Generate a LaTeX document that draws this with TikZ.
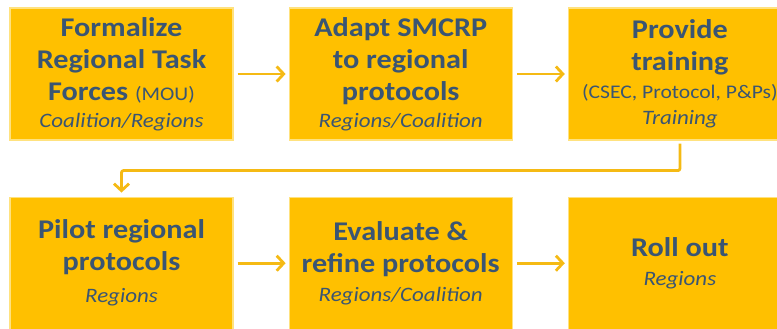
\documentclass[tikz,border=0pt]{standalone}
\usepackage{fontspec}
\setmainfont{Carlito}[FakeStretch=1.12]
\usetikzlibrary{arrows.meta,positioning}

\definecolor{gold}{HTML}{FFC000}
\definecolor{goldedge}{HTML}{FFE27F}
\definecolor{inkblue}{HTML}{3A5573}
\definecolor{arrowgold}{HTML}{F5BA14}

\newcommand{\boxtitle}{\bfseries\fontsize{27}{32}\selectfont}
\newcommand{\boxnote}{\mdseries\fontsize{19.3}{24}\selectfont}
\newcommand{\boxwho}{\mdseries\itshape\fontsize{20.5}{25}\selectfont}

\begin{document}
\begin{tikzpicture}[x=1pt, y=1pt, node distance=55pt,
  stepbox/.style={draw=goldedge, line width=1.2pt, fill=gold, text=inkblue,
    minimum width=223pt, minimum height=132pt, inner sep=0pt, align=center, font=\boxtitle},
  flow/.style={draw=arrowgold, line width=2.8pt, -{Straight Barb[length=7pt,width=15pt]}}]
  \useasboundingbox (0,0) rectangle (777,329);
  % top row
  \node[stepbox] (form) at (121.5,255) {Formalize\\ Regional Task\\ Forces {\boxnote (MOU)}\\[-5pt] {\boxwho Coalition/Regions}};
  \node[stepbox, right=of form] (adapt) {Adapt SMCRP\\ to regional\\ protocols\\[-5pt] {\boxwho Regions/Coalition}};
  \node[stepbox, right=of adapt] (train) {Provide\\ training\\[-4pt] {\boxnote (CSEC, Protocol, P\&Ps)}\\[-6pt] {\boxwho Training}};
  % bottom row
  \node[stepbox, below=56pt of form] (pilot) {Pilot regional\\ protocols\\ {\boxwho Regions}};
  \node[stepbox, right=of pilot] (evalr) {Evaluate \&\\ refine protocols\\[-3pt] {\boxwho Regions/Coalition}};
  \node[stepbox, right=of evalr] (roll) {Roll out\\[-3pt] {\boxwho Regions}};
  % connectors
  \draw[flow, shorten <=4pt, shorten >=3pt] (form) -- (adapt);
  \draw[flow, shorten <=4pt, shorten >=3pt] (adapt) -- (train);
  \draw[flow, rounded corners=2pt, shorten <=3pt, shorten >=4pt] (train.south) -- ++(0,-30) -| (pilot.north);
  \draw[flow, shorten <=4pt, shorten >=3pt] (pilot) -- (evalr);
  \draw[flow, shorten <=4pt, shorten >=3pt] (evalr) -- (roll);
\end{tikzpicture}
\end{document}
